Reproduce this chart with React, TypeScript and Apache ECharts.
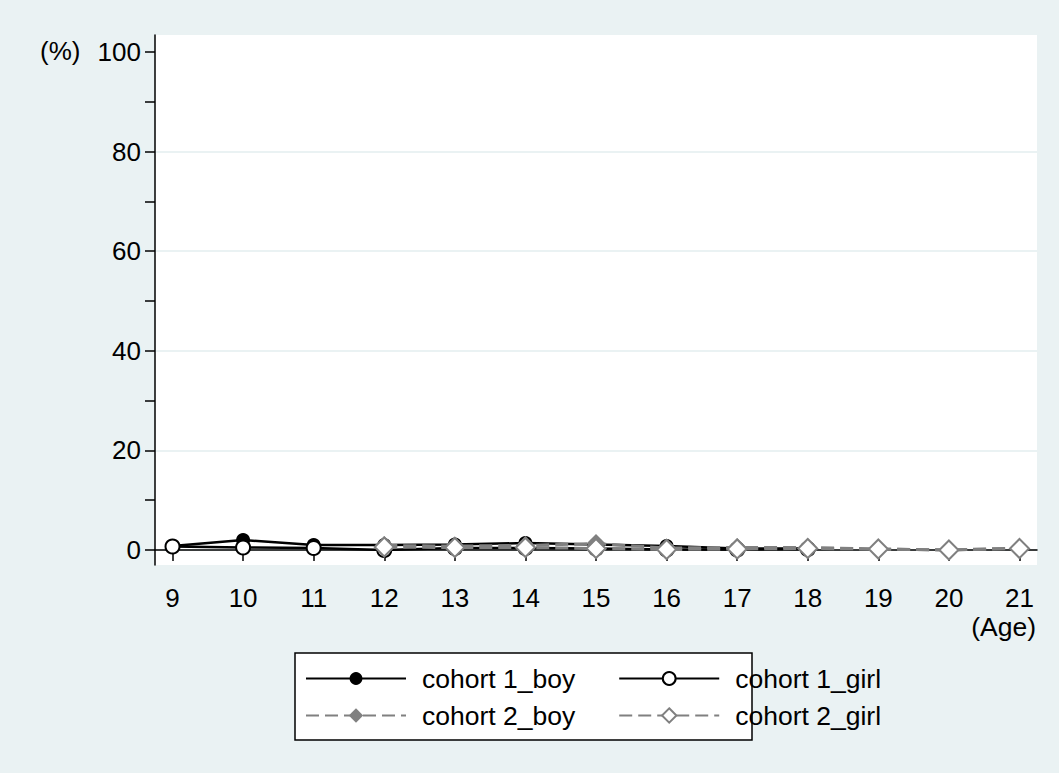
import React, { useEffect, useRef } from "react";
import * as echarts from "echarts";

const agesCohort1 = [9, 10, 11, 12, 13, 14, 15, 16, 17, 18];
const agesCohort2 = [12, 13, 14, 15, 16, 17, 18, 19, 20, 21];
const cohort1Boy = [0.8, 2.0, 1.0, 1.0, 1.1, 1.4, 1.1, 0.8, 0.3, 0.3];
const cohort1Girl = [0.7, 0.5, 0.4, 0.0, 0.4, 0.4, 0.3, 0.1, 0.1, 0.2];
const cohort2Boy = [0.9, 0.8, 0.9, 1.3, 0.4, 0.5, 0.5, 0.2, 0.0, 0.4];
const cohort2Girl = [0.6, 0.5, 0.5, 0.3, 0.1, 0.2, 0.3, 0.2, 0.0, 0.3];
const xTicks = [9, 10, 11, 12, 13, 14, 15, 16, 17, 18, 19, 20, 21];
const yLabels = [0, 20, 40, 60, 80, 100];
const yTicks = [0, 10, 20, 30, 40, 50, 60, 70, 80, 90, 100];
const yGrid = [0, 20, 40, 60, 80];
const seriesNames = ["cohort 1_boy", "cohort 1_girl", "cohort 2_boy", "cohort 2_girl"];

const FONT = "'Liberation Sans', Arial, sans-serif";
const GREY = "#808080";

function pairs(xs: number[], ys: number[]) {
  return xs.map((x, i) => [x, ys[i]]);
}

export default function App() {
  const ref = useRef<HTMLDivElement>(null);
  useEffect(() => {
    if (!ref.current) return;
    const chart = echarts.init(ref.current, undefined, { renderer: "svg" });
    const legendText = { fontFamily: FONT, fontSize: 26.5, color: "#000", padding: [0, 0, 0, 11] };
    chart.setOption({
      animation: false,
      backgroundColor: "#eaf2f3",
      textStyle: { fontFamily: FONT },
      grid: {
        left: 155,
        right: 1059 - 1037,
        top: 35,
        bottom: 773 - 565,
        show: true,
        backgroundColor: "#ffffff",
        borderWidth: 0,
      },
      xAxis: {
        type: "value",
        min: 8.752,
        max: 21.248,
        axisLine: { show: true, lineStyle: { color: "#000", width: 1.5 } },
        axisTick: { show: true, length: 11, customValues: xTicks, lineStyle: { color: "#000", width: 1.5 } },
        axisLabel: { customValues: xTicks, fontSize: 26, color: "#000", margin: 20, fontFamily: FONT },
        splitLine: { show: false },
      },
      yAxis: {
        type: "value",
        min: -3.01,
        max: 103.41,
        axisLine: { show: true, lineStyle: { color: "#000", width: 1.5 } },
        axisTick: { show: true, length: 10, customValues: yTicks, lineStyle: { color: "#000", width: 1.5 } },
        axisLabel: { customValues: yLabels, fontSize: 26, color: "#000", margin: 14, fontFamily: FONT },
        splitLine: { show: false },
      },
      legend: [
        {
          data: [seriesNames[0], seriesNames[1]],
          left: 300,
          top: 660,
          itemWidth: 100,
          itemHeight: 16,
          itemGap: 43,
          textStyle: legendText,
          lineStyle: { width: 2 },
        },
        {
          data: [seriesNames[2], seriesNames[3]],
          left: 300,
          top: 697,
          itemWidth: 100,
          itemHeight: 18,
          itemGap: 43,
          textStyle: legendText,
          lineStyle: { width: 2 },
        },
      ],
      graphic: [
        {
          type: "rect",
          shape: { x: 295, y: 653, width: 457, height: 87 },
          style: { fill: "#ffffff", stroke: "#000", lineWidth: 1.5 },
          z: -1,
        },
        {
          type: "text",
          x: 40,
          y: 51,
          style: { text: "(%)", font: `26px ${FONT}`, fill: "#000", textVerticalAlign: "middle" },
        },
        {
          type: "text",
          x: 1036,
          y: 627,
          style: { text: "(Age)", font: `26.5px ${FONT}`, fill: "#000", textAlign: "right", textVerticalAlign: "middle" },
        },
      ],
      series: [
        {
          name: seriesNames[0],
          type: "line",
          data: pairs(agesCohort1, cohort1Boy),
          symbol: "circle",
          symbolSize: 14,
          itemStyle: { color: "#000" },
          lineStyle: { color: "#000", width: 2.5 },
          markLine: {
            silent: true,
            symbol: "none",
            label: { show: false },
            lineStyle: { color: "#eaf2f3", width: 2, type: "solid" },
            data: yGrid.map((v) => ({ yAxis: v })),
            z: 0,
          },
        },
        {
          name: seriesNames[1],
          type: "line",
          data: pairs(agesCohort1, cohort1Girl),
          symbol: "emptyCircle",
          symbolSize: 14,
          itemStyle: { color: "#000", borderWidth: 3 },
          lineStyle: { color: "#000", width: 2.5 },
        },
        {
          name: seriesNames[2],
          type: "line",
          data: pairs(agesCohort2, cohort2Boy),
          symbol: "diamond",
          symbolSize: 19,
          itemStyle: { color: GREY },
          lineStyle: { color: GREY, width: 3, type: [13, 6] },
        },
        {
          name: seriesNames[3],
          type: "line",
          data: pairs(agesCohort2, cohort2Girl),
          symbol: "emptyDiamond",
          symbolSize: 19,
          itemStyle: { color: GREY, borderWidth: 3 },
          lineStyle: { color: GREY, width: 3, type: [13, 6] },
        },
      ],
    });
    return () => chart.dispose();
  }, []);
  return (
    <div
      ref={ref}
      style={{ position: "absolute", left: 0, top: 0, width: 1059, height: 773 }}
    />
  );
}
